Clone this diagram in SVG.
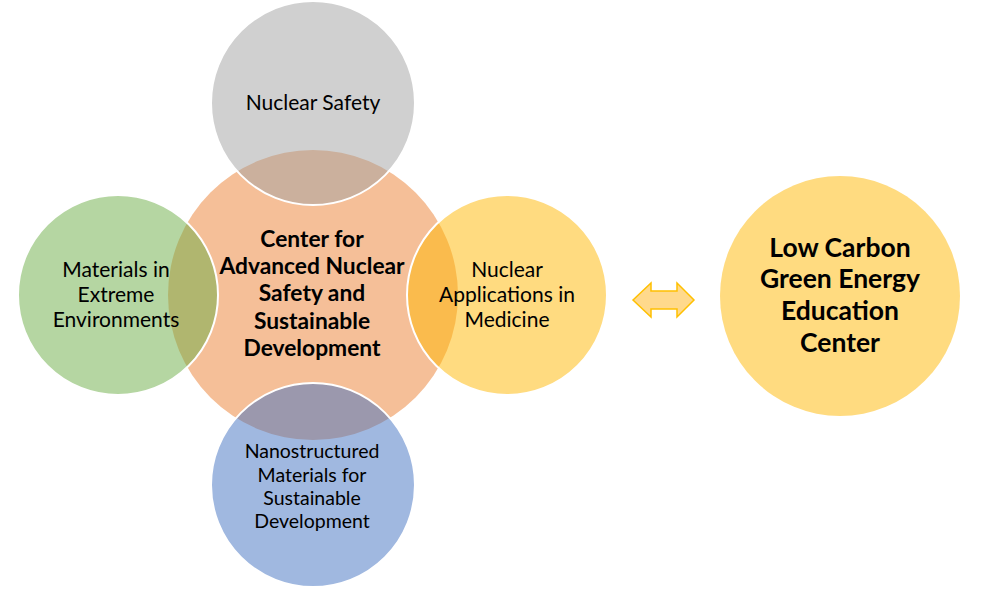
<svg xmlns="http://www.w3.org/2000/svg" width="985" height="590" viewBox="0 0 985 590">
<style>
.lbl{font-family:Lato,"Noto Sans",sans-serif;font-size:21px;fill:#000;text-anchor:middle}
.sm{font-size:19.5px}
.hub{font-family:Lato,"Noto Sans",sans-serif;font-size:22.8px;font-weight:bold;fill:#000;text-anchor:middle}
.big{font-family:Lato,"Noto Sans",sans-serif;font-size:26.5px;font-weight:bold;fill:#000;text-anchor:middle}
.sat{fill-opacity:0.5;stroke:#fff;stroke-width:2}
</style>
<rect width="985" height="590" fill="#fff"/>
<g id="hub">
<circle cx="313" cy="295" r="145" fill="#F5BF98"/>
</g>
<g id="nuclear-safety">
<circle class="sat" cx="313" cy="103" r="102" fill="#A1A1A1"/>
<text class="lbl" x="313" y="110">Nuclear Safety</text>
</g>
<g id="materials-extreme">
<circle class="sat" cx="118" cy="295" r="100" fill="#6BAD45"/>
<text class="lbl" x="116" y="277">Materials in</text>
<text class="lbl" x="116" y="302">Extreme</text>
<text class="lbl" x="116" y="327">Environments</text>
</g>
<g id="nuclear-medicine">
<circle class="sat" cx="507" cy="295" r="100" fill="#FFB701"/>
<text class="lbl" x="507" y="277">Nuclear</text>
<text class="lbl" x="507" y="302">Applications in</text>
<text class="lbl" x="507" y="327">Medicine</text>
</g>
<g id="nanostructured">
<circle class="sat" cx="313" cy="485" r="102" fill="#4171C1"/>
<text class="lbl sm" x="312" y="458">Nanostructured</text>
<text class="lbl sm" x="312" y="482">Materials for</text>
<text class="lbl sm" x="312" y="505">Sustainable</text>
<text class="lbl sm" x="312" y="528">Development</text>
</g>
<g id="hub-label">
<text class="hub" x="312" y="247">Center for</text>
<text class="hub" x="312" y="274">Advanced Nuclear</text>
<text class="hub" x="312" y="301">Safety and</text>
<text class="hub" x="312" y="329">Sustainable</text>
<text class="hub" x="312" y="356">Development</text>
</g>
<g id="connectors">
<polygon points="633,300 651,283 651,291 677,291 677,283 694,300 677,317 677,309 651,309 651,317" fill="#FFD98C" stroke="#FFC000" stroke-width="1.5" stroke-linejoin="miter"/>
</g>
<g id="low-carbon">
<circle cx="840" cy="296" r="120" fill="#FFDB80"/>
<text class="big" x="840" y="257">Low Carbon</text>
<text class="big" x="840" y="288">Green Energy</text>
<text class="big" x="840" y="320">Education</text>
<text class="big" x="840" y="352">Center</text>
</g>
</svg>
